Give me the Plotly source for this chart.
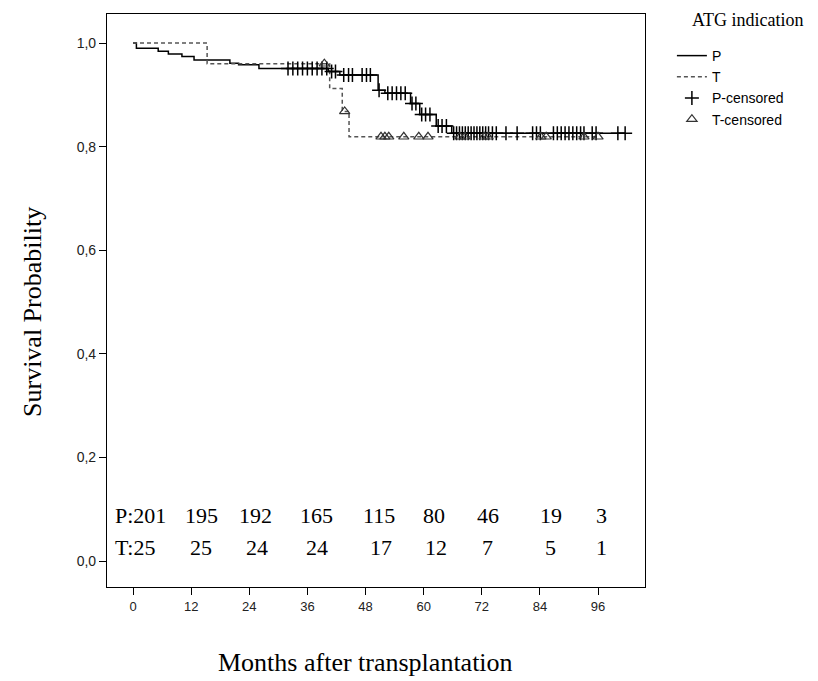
import plotly.graph_objects as go

# ---- data ----
# Group P (solid line): Kaplan-Meier steps
p_time = [0, 0.7, 5.2, 7.3, 10.1, 12.6, 20.0, 21.8, 26.0, 40.3, 42.7, 50.6, 52.0, 57.3, 59.2, 62.6, 65.8, 101.6]
p_surv = [1.000, 0.990, 0.984, 0.979, 0.974, 0.967, 0.961, 0.958, 0.951, 0.945, 0.938, 0.909, 0.903, 0.883, 0.862, 0.840, 0.826, 0.826]
p_censor_time = [32.0, 33.0, 34.0, 35.0, 36.0, 37.0, 38.0, 39.0, 40.0, 41.0, 41.8,
                 43.5, 44.5, 45.3, 47.3, 48.2, 49.0, 50.8, 52.6, 53.5, 54.4, 55.3, 56.2,
                 57.6, 58.4, 59.6, 60.4, 61.3, 63.0, 63.8, 64.7, 66.2, 66.8, 67.4, 68.0,
                 68.6, 69.2, 69.8, 70.4, 71.0, 71.6, 72.2, 72.8, 73.4, 74.2, 75.0, 77.0,
                 79.3, 82.5, 83.3, 84.1, 86.8, 87.6, 88.4, 89.2, 90.0, 90.8, 91.6, 92.4,
                 93.1, 94.8, 95.6, 100.1, 101.6]

# Group T (dashed line)
t_time = [0, 15.3, 40.6, 43.2, 44.6, 96.0]
t_surv = [1.000, 0.960, 0.912, 0.868, 0.819, 0.819]
t_censor_time = [39.5, 43.7, 51.2, 52.0, 52.8, 55.9, 59.0, 60.9, 67.5, 68.5, 72.5, 73.3,
                 84.2, 85.3, 93.1, 96.0]

# Numbers at risk
risk_months = [0, 12, 24, 36, 48, 60, 72, 84, 96]
p_at_risk = [201, 195, 192, 165, 115, 80, 46, 19, 3]
t_at_risk = [25, 25, 24, 24, 17, 12, 7, 5, 1]

x_ticks = [0, 12, 24, 36, 48, 60, 72, 84, 96]
y_ticks = [0.0, 0.2, 0.4, 0.6, 0.8, 1.0]
y_tick_labels = ["0,0", "0,2", "0,4", "0,6", "0,8", "1,0"]


def step_value(times, surv, t):
    v = surv[0]
    for ti, si in zip(times, surv):
        if ti <= t:
            v = si
        else:
            break
    return v


p_censor_surv = [step_value(p_time, p_surv, t) for t in p_censor_time]
t_censor_surv = [step_value(t_time, t_surv, t) for t in t_censor_time]

SERIF = "Liberation Serif, Times New Roman, serif"
SANS = "Liberation Sans, Arial, sans-serif"

fig = go.Figure()
fig.add_trace(go.Scatter(x=p_time, y=p_surv, mode="lines", name="P",
                         line=dict(color="black", width=1.5, shape="hv")))
fig.add_trace(go.Scatter(x=t_time, y=t_surv, mode="lines", name="T",
                         line=dict(color="#555555", width=1.5, shape="hv", dash="4px,3px")))
fig.add_trace(go.Scatter(x=p_censor_time, y=p_censor_surv, mode="markers", name="P-censored",
                         marker=dict(symbol="cross-thin", size=10, color="black",
                                     line=dict(color="black", width=1.5))))
fig.add_trace(go.Scatter(x=t_censor_time, y=t_censor_surv, mode="markers", name="T-censored",
                         marker=dict(symbol="triangle-up-open", size=9, color="#333333",
                                     line=dict(color="#333333", width=1.2))))

# layout: horizontal nudge (months) of each at-risk label relative to its month
PX_PER_MONTH = 4.844
p_label_nudge = [v / PX_PER_MONTH for v in [0, 10, 6, 9, 13, 10, 6, 11, 3]]
t_label_nudge = [v / PX_PER_MONTH for v in [0, 10, 8, 10, 15, 12, 6, 11, 3]]
P_ROW_Y = 0.0888
T_ROW_Y = 0.027
risk_font = dict(family=SERIF, size=22, color="black")

annotations = []
for i, (m, pv, tv) in enumerate(zip(risk_months, p_at_risk, t_at_risk)):
    if i == 0:
        annotations.append(dict(x=m - 4.1, y=P_ROW_Y, xref="x", yref="y", text=f"P:{pv}",
                                showarrow=False, xanchor="left", yanchor="middle", font=risk_font))
        annotations.append(dict(x=m - 4.1, y=T_ROW_Y, xref="x", yref="y", text=f"T:{tv}",
                                showarrow=False, xanchor="left", yanchor="middle", font=risk_font))
    else:
        annotations.append(dict(x=m + p_label_nudge[i], y=P_ROW_Y, xref="x", yref="y", text=str(pv),
                                showarrow=False, xanchor="center", yanchor="middle", font=risk_font))
        annotations.append(dict(x=m + t_label_nudge[i], y=T_ROW_Y, xref="x", yref="y", text=str(tv),
                                showarrow=False, xanchor="center", yanchor="middle", font=risk_font))

# axis titles
annotations.append(dict(x=-0.1375, y=0.48, xref="paper", yref="paper", text="Survival Probability",
                        textangle=-90, showarrow=False, xanchor="center", yanchor="middle",
                        font=dict(family=SERIF, size=26, color="black")))
annotations.append(dict(x=0.4796, y=-0.131, xref="paper", yref="paper", text="Months after transplantation",
                        showarrow=False, xanchor="center", yanchor="middle",
                        font=dict(family=SERIF, size=26, color="black")))
# legend title
annotations.append(dict(x=1.0836, y=0.9895, xref="paper", yref="paper", text="ATG indication",
                        showarrow=False, xanchor="left", yanchor="middle",
                        font=dict(family=SERIF, size=18, color="black")))

# the page body adds an 8px offset, so the figure is 8px smaller and margins shifted
fig.update_layout(
    width=810, height=673,
    margin=dict(l=99, r=173, t=6, b=94),
    paper_bgcolor="white", plot_bgcolor="white",
    showlegend=True,
    legend=dict(x=1.05, y=0.9546, xanchor="left", yanchor="top",
                font=dict(family=SANS, size=14, color="black"),
                bgcolor="rgba(0,0,0,0)", tracegroupgap=0),
    annotations=annotations,
)
fig.update_xaxes(range=[-5.37, 105.7], tickmode="array", tickvals=x_ticks,
                 ticktext=[str(v) for v in x_ticks],
                 showgrid=False, zeroline=False, showline=True, linecolor="black", linewidth=1.2,
                 mirror=True, ticks="outside", ticklen=7, tickcolor="black", tickwidth=1.2,
                 tickfont=dict(family=SANS, size=13, color="#222222"))
fig.update_yaxes(range=[-0.0502, 1.056], tickmode="array", tickvals=y_ticks, ticktext=y_tick_labels,
                 showgrid=False, zeroline=False, showline=True, linecolor="black", linewidth=1.2,
                 mirror=True, ticks="outside", ticklen=7, tickcolor="black", tickwidth=1.2,
                 tickfont=dict(family=SANS, size=14, color="#222222"))

fig.write_html("out.html")
